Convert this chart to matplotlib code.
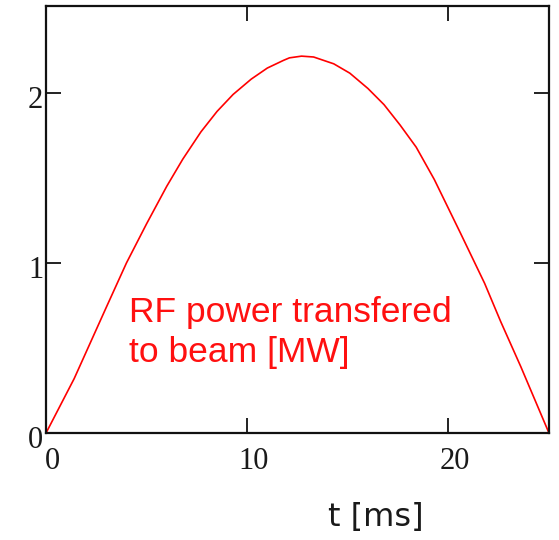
import matplotlib
matplotlib.use("Agg")
import matplotlib.pyplot as plt
import matplotlib.transforms as mtransforms

# RF power delivered to the beam over the pulse
t_ms = [0, 1.4, 3.0, 4.0, 5.0, 6.0, 6.8, 7.7, 8.5, 9.3, 10.2, 11.0, 11.8,
        12.1, 12.7, 13.3, 14.3, 15.1, 16.0, 16.8, 17.6, 18.4, 19.3, 20.6,
        21.8, 22.6, 23.6, 25.0]
power_mw = [0, 0.32, 0.74, 1.0, 1.23, 1.45, 1.61, 1.77, 1.89, 1.99, 2.08, 2.145, 2.19,
            2.205, 2.215, 2.21, 2.17, 2.115, 2.025, 1.93, 1.81, 1.68, 1.49, 1.175,
            0.88, 0.655, 0.39, 0]

x_ticks = [0, 10, 20]
y_ticks = [0, 1, 2]

fig = plt.figure(figsize=(5.59, 5.40), dpi=100)
ax = fig.add_axes([0.0823, 0.198, 0.8998, 0.791])

ax.plot(t_ms, power_mw, color="#ff0000", linewidth=1.2)

ax.set_xlim(0, 25)
ax.set_ylim(0, 2.51)
ax.set_xticks(x_ticks)
ax.set_yticks(y_ticks)

for side in ax.spines.values():
    side.set_linewidth(1.6)
    side.set_color("#111111")

ax.tick_params(direction="in", length=11, width=1.3, color="#111111",
               top=True, right=True, labelsize=22)
ax.tick_params(axis="x", pad=10)
ax.tick_params(axis="y", pad=2)

for lab in ax.get_xticklabels() + ax.get_yticklabels():
    lab.set_fontfamily("Liberation Serif")
    lab.set_color("#1a1a1a")

# Mathcad-style label placement: x labels sit a bit right, y labels a bit low
dx = mtransforms.ScaledTranslation(6 / 100, 0, fig.dpi_scale_trans)
dy = mtransforms.ScaledTranslation(0, -4 / 100, fig.dpi_scale_trans)
for lab in ax.get_xticklabels():
    lab.set_transform(lab.get_transform() + dx)
for lab in ax.get_yticklabels():
    lab.set_transform(lab.get_transform() + dy)

ax.text(0.165, 0.322, "RF power transfered\nto beam [MW]",
        transform=ax.transAxes, color="#ff1010", fontsize=25.5,
        fontfamily="Liberation Sans", va="top", ha="left", linespacing=1.3)

fig.text(0.672, 0.041, "t [ms]", ha="center", va="center",
         fontsize=23, fontfamily="DejaVu Sans", color="#1a1a1a")

fig.savefig("out.png", dpi=100)
